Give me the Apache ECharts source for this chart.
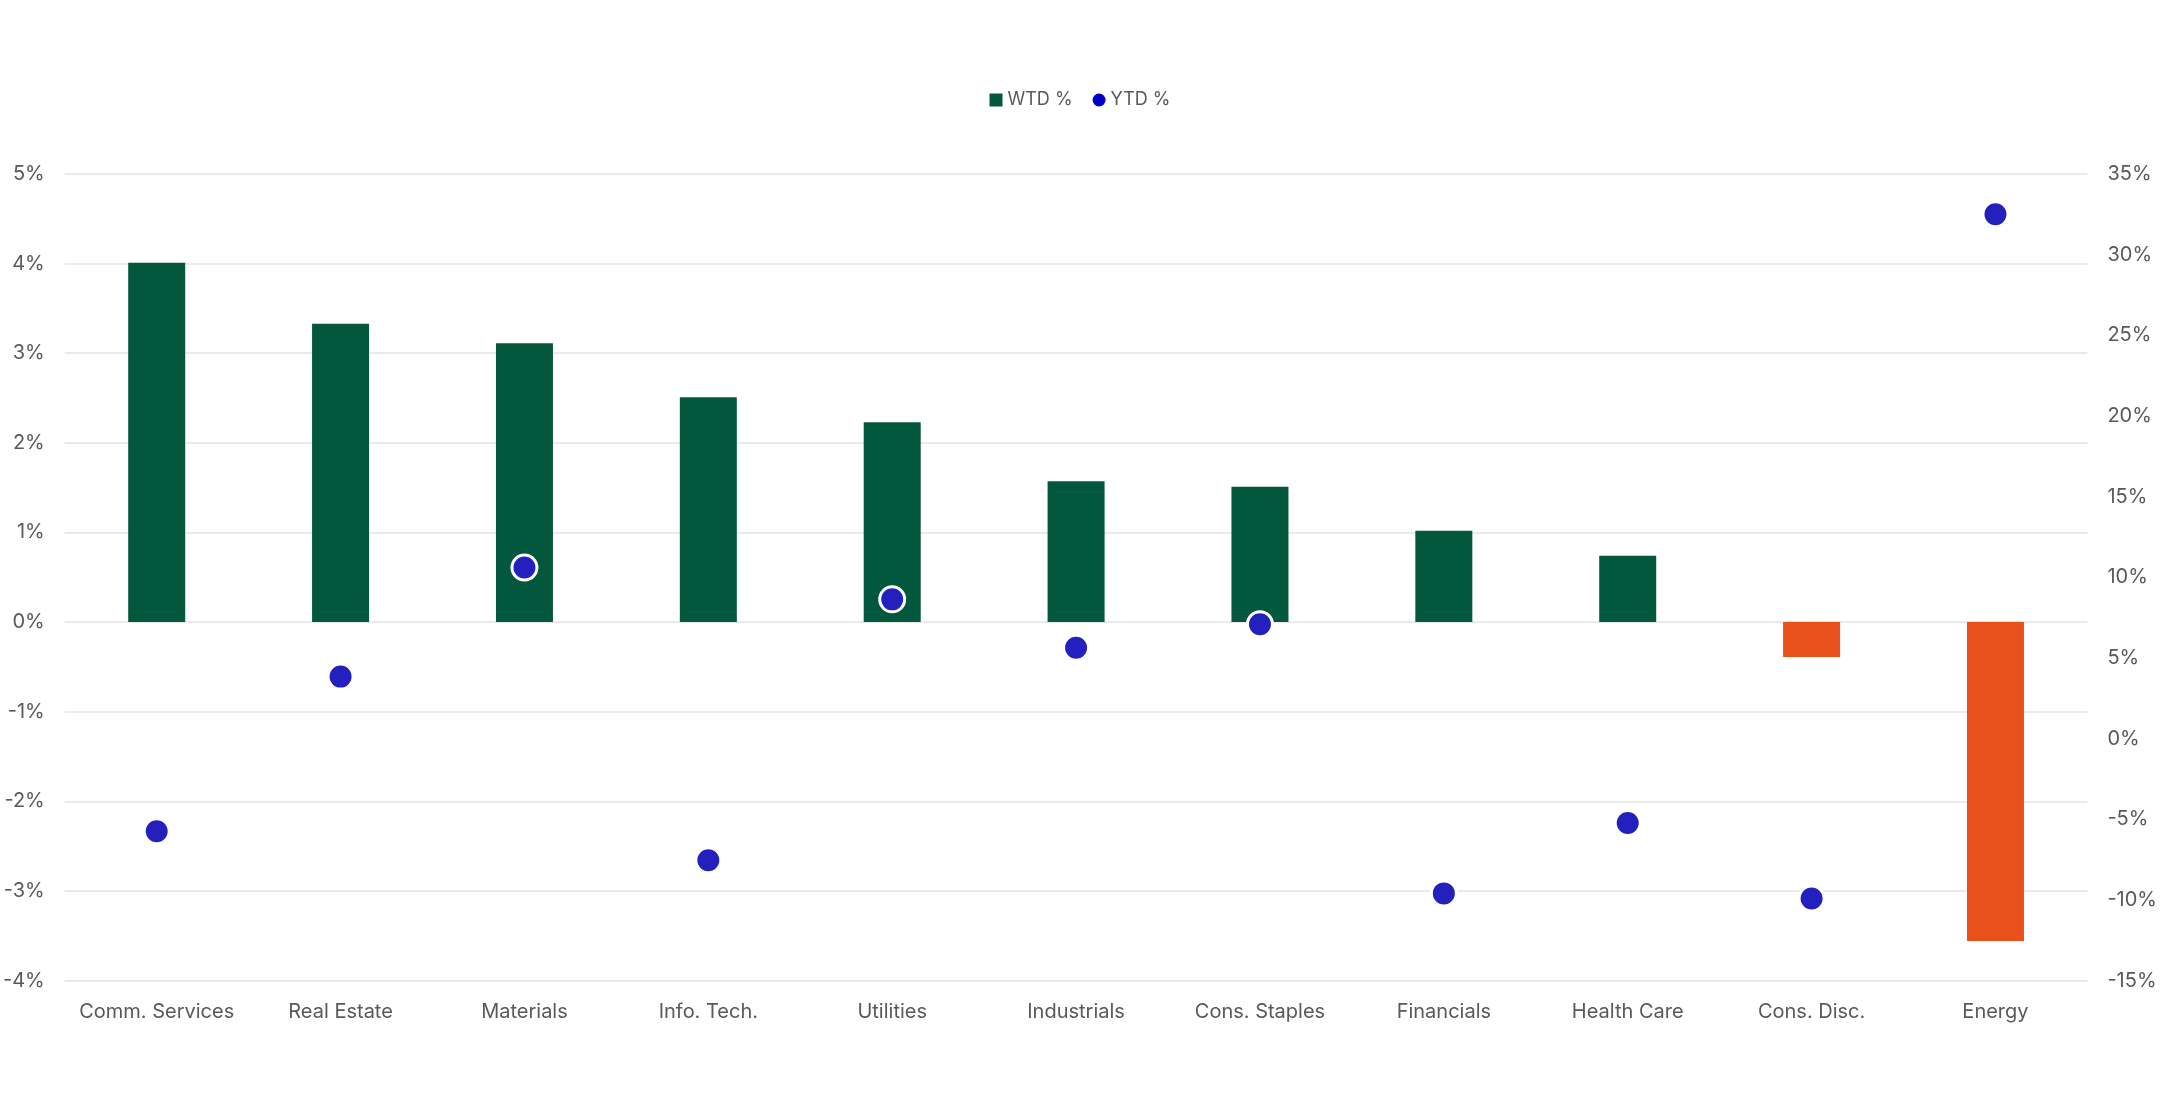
<!DOCTYPE html>
<html>
<head>
<meta charset="utf-8">
<script src="https://cdn.jsdelivr.net/npm/echarts@6/dist/echarts.min.js"></script>
<style>
html,body{margin:0;padding:0;background:#fff;}
#chart{width:2160px;height:1106px;}
</style>
</head>
<body>
<div id="chart"></div>
<script>
const categories = ['Comm. Services','Real Estate','Materials','Info. Tech.','Utilities','Industrials','Cons. Staples','Financials','Health Care','Cons. Disc.','Energy'];
const wtdValues = [4.01, 3.33, 3.11, 2.51, 2.23, 1.57, 1.51, 1.02, 0.74, -0.39, -3.56];
const ytdValues = [-5.75, 3.84, 10.6, -7.55, 8.63, 5.63, 7.09, -9.6, -5.24, -9.92, 32.5];
const leftTicks = {min: -4, max: 5, interval: 1};
const rightTicks = {min: -15, max: 35, interval: 5};

const GREEN = '#03573C', ORANGE = '#E8501C', BLUE = '#2420BE';
const TXT = '#595959';
const FONT = 'Inter, Roboto, sans-serif';

const chart = echarts.init(document.getElementById('chart'));
chart.setOption({
  animation: false,
  backgroundColor: '#fff',
  textStyle: {fontFamily: FONT},
  legend: {
    top: 86,
    left: 'center',
    itemWidth: 13,
    itemHeight: 13,
    itemGap: 20,
    itemTextGap: 5,
    textStyle: {fontFamily: FONT, fontSize: 18, color: TXT},
    data: [
      {name: 'WTD %', icon: 'rect', itemStyle: {color: GREEN}},
      {name: 'YTD %', icon: 'circle', itemStyle: {color: '#0000CC', borderWidth: 0}}
    ]
  },
  grid: {left: 61.7, right: 67, top: 174, bottom: 125.5, containLabel: false},
  xAxis: {
    type: 'category',
    data: categories,
    axisLine: {show: false},
    axisTick: {show: false},
    axisLabel: {color: TXT, fontSize: 20, fontFamily: FONT, margin: 21, interval: 0}
  },
  yAxis: [
    {
      type: 'value',
      min: leftTicks.min, max: leftTicks.max, interval: leftTicks.interval,
      axisLine: {show: false}, axisTick: {show: false},
      axisLabel: {formatter: '{value}%', color: TXT, fontSize: 20, fontFamily: FONT, margin: 20},
      splitLine: {show: true, lineStyle: {color: '#E3E3E3', width: 1.5}}
    },
    {
      type: 'value',
      min: rightTicks.min, max: rightTicks.max, interval: rightTicks.interval,
      axisLine: {show: false}, axisTick: {show: false},
      axisLabel: {formatter: '{value}%', color: TXT, fontSize: 20, fontFamily: FONT, margin: 20},
      splitLine: {show: false}
    }
  ],
  series: [
    {
      name: 'WTD %',
      type: 'bar',
      yAxisIndex: 0,
      data: wtdValues,
      barWidth: 57,
      itemStyle: {color: p => p.value < 0 ? ORANGE : GREEN}
    },
    {
      name: 'YTD %',
      type: 'scatter',
      yAxisIndex: 1,
      data: ytdValues,
      symbol: 'circle',
      symbolSize: 25,
      itemStyle: {color: BLUE, borderColor: '#fff', borderWidth: 3, opacity: 1},
      z: 5
    }
  ]
});
</script>
</body>
</html>
